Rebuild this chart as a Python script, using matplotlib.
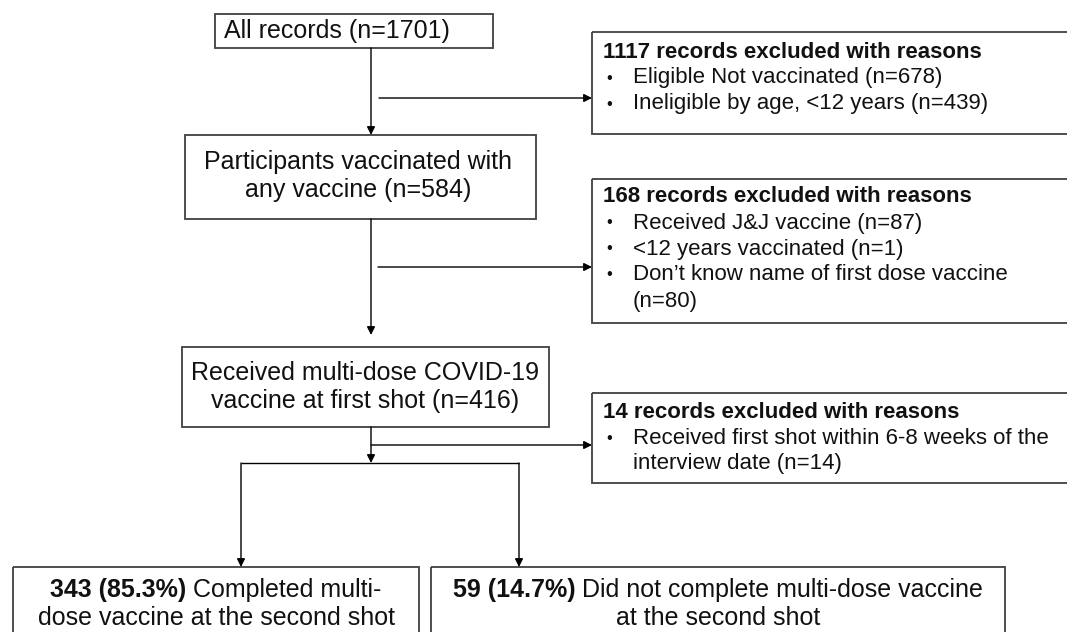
import matplotlib
matplotlib.use("Agg")
import matplotlib.pyplot as plt
from matplotlib.patches import Rectangle

plt.rcParams['font.family'] = ['Liberation Sans', 'DejaVu Sans']

# flow boxes text
all_records = "All records (n=1701)"
vaccinated_any = ["Participants vaccinated with", "any vaccine (n=584)"]
multi_dose_first = ["Received multi-dose COVID-19", "vaccine at first shot (n=416)"]

excl_titles = ["1117 records excluded with reasons",
               "168 records excluded with reasons",
               "14 records excluded with reasons"]
excl_reasons = [
    [["Eligible Not vaccinated (n=678)"], ["Ineligible by age, <12 years (n=439)"]],
    [["Received J&J vaccine (n=87)"], ["<12 years vaccinated (n=1)"],
     ["Don\u2019t know name of first dose vaccine", "(n=80)"]],
    [["Received first shot within 6-8 weeks of the", "interview date (n=14)"]],
]

completed_bold = "343 (85.3%)"
completed_text = ["Completed multi-", "dose vaccine at the second shot"]
not_completed_bold = "59 (14.7%)"
not_completed_text = ["Did not complete multi-dose vaccine", "at the second shot"]

edge = '#404040'
txt = '#111111'
main_fs = 18
excl_fs = 16

fig = plt.figure(figsize=(10.67, 6.32), dpi=100)
ax = fig.add_axes([0, 0, 1, 1])
ax.set_xlim(0, 1067)
ax.set_ylim(632, 0)
ax.axis('off')


def box(x0, y0, x1, y1):
    ax.add_patch(Rectangle((x0, y0), x1 - x0, y1 - y0, fill=False,
                           edgecolor=edge, lw=1.3, clip_on=False))


def arrow(x0, y0, x1, y1):
    ax.annotate("", xy=(x1, y1), xytext=(x0, y0),
                arrowprops=dict(arrowstyle='-|>', color='black', lw=1,
                                mutation_scale=12, shrinkA=0, shrinkB=0))


def line(xs, ys):
    ax.plot(xs, ys, color='black', lw=1, solid_capstyle='butt')


# main column
box(215, 14, 493, 48)
ax.text(224, 31, all_records, fontsize=main_fs, va='center', ha='left', color=txt)
arrow(371, 48, 371, 135)
arrow(379, 98, 592, 98)

box(185, 135, 536, 219)
for i, s in enumerate(vaccinated_any):
    ax.text(358, 162 + i * 28, s, fontsize=main_fs, va='center', ha='center', color=txt)
arrow(371, 219, 371, 335)
arrow(378, 267, 592, 267)

box(182, 347, 549, 427)
for i, s in enumerate(multi_dose_first):
    ax.text(365, 373 + i * 28, s, fontsize=main_fs, va='center', ha='center', color=txt)
arrow(371, 427, 371, 463)
arrow(371, 445, 592, 445)

# exclusion boxes on the right
excl_boxes = [(32, 134, 52), (179, 323, 197), (393, 483, 412)]
for (y0, y1, ty), title, reasons in zip(excl_boxes, excl_titles, excl_reasons):
    box(592, y0, 1075, y1)
    ax.text(603, ty, title, fontsize=excl_fs, weight='bold', va='center', color=txt)
    k = 1
    for r in reasons:
        ax.text(606, ty + k * 26, "\u2022", fontsize=12, va='center', color=txt)
        for s in r:
            ax.text(633, ty + k * 26, s, fontsize=excl_fs, va='center', color=txt)
            k += 1

# branch to the two outcomes
line([241, 519], [463, 463])
arrow(241, 463, 241, 567)
arrow(519, 463, 519, 567)

box(13, 567, 419, 650)
box(431, 567, 1005, 650)

fig.canvas.draw()
renderer = fig.canvas.get_renderer()


def mixed_line(cx, y, bold, rest):
    tb = ax.text(0, y, bold + " ", fontsize=main_fs, weight='bold', va='center', color=txt)
    tr = ax.text(0, y, rest, fontsize=main_fs, va='center', color=txt)
    wb = tb.get_window_extent(renderer).width
    wr = tr.get_window_extent(renderer).width
    x0 = cx - (wb + wr) / 2
    tb.set_x(x0)
    tr.set_x(x0 + wb)


mixed_line(216, 590, completed_bold, completed_text[0])
ax.text(216, 618, completed_text[1], fontsize=main_fs, va='center', ha='center', color=txt)
mixed_line(718, 590, not_completed_bold, not_completed_text[0])
ax.text(718, 618, not_completed_text[1], fontsize=main_fs, va='center', ha='center', color=txt)

fig.savefig("out.png", dpi=100)
